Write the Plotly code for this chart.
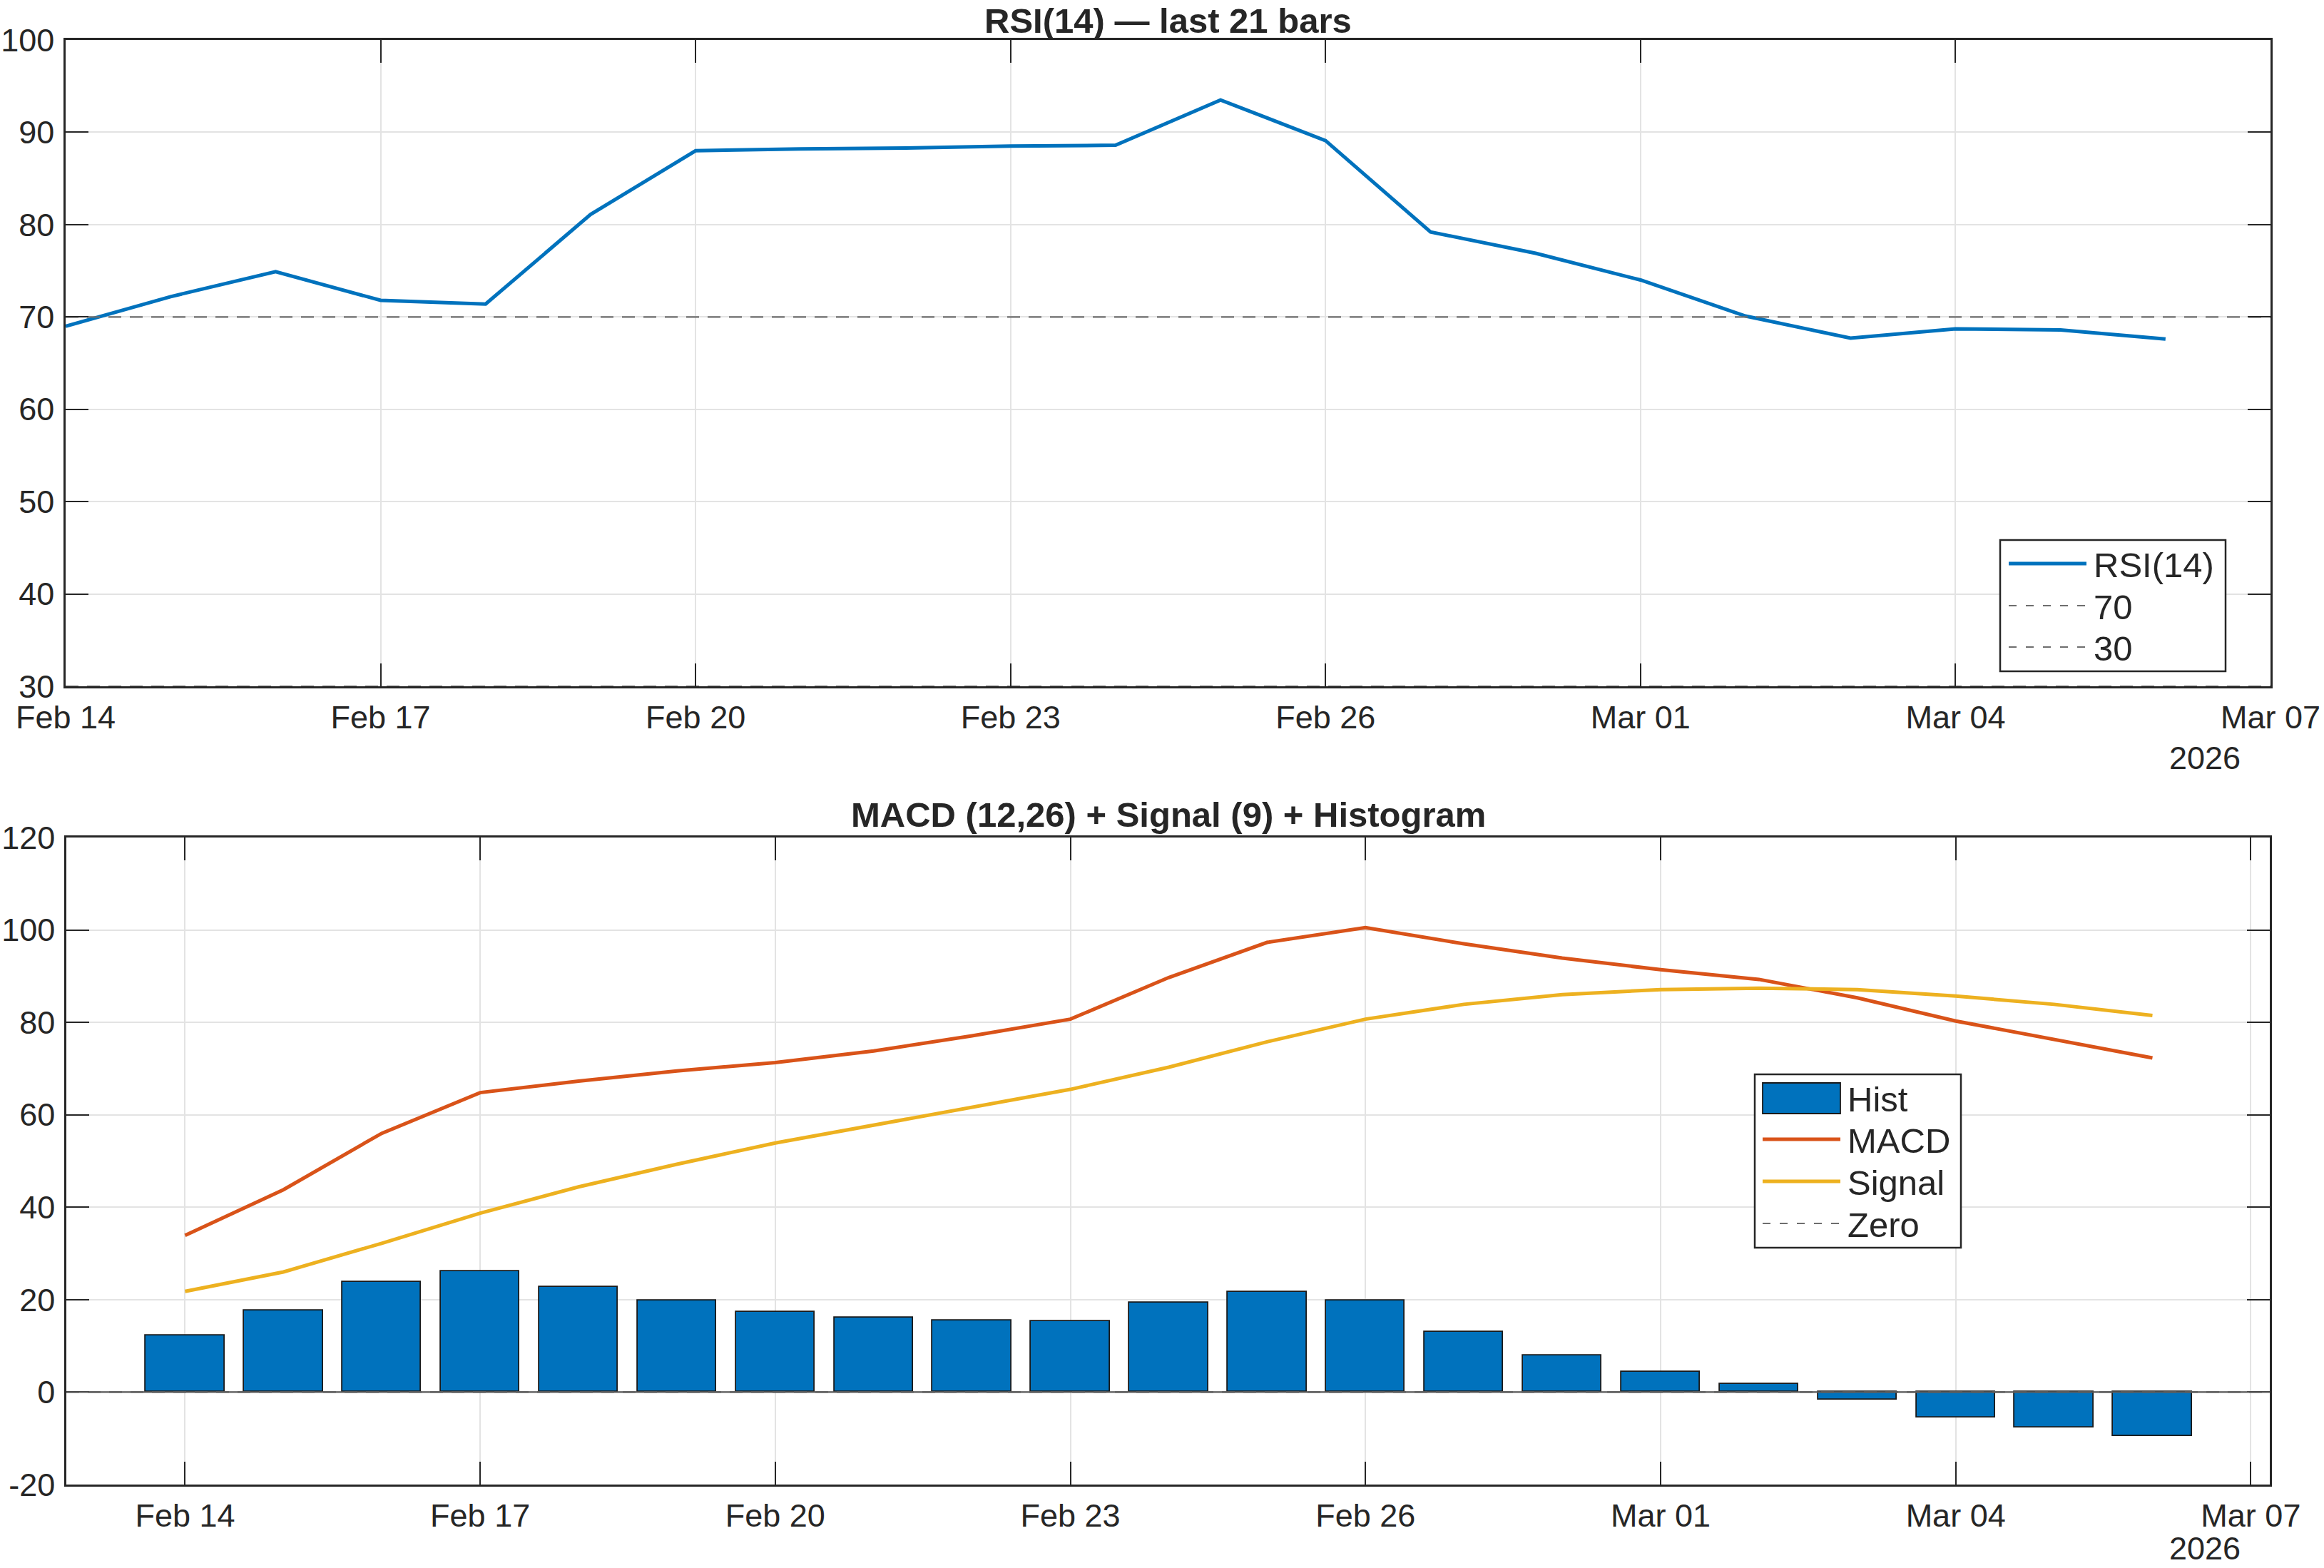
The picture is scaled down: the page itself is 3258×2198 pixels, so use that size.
import plotly.graph_objects as go

# ---------------- data ----------------
dates = ["2026-02-14", "2026-02-15", "2026-02-16", "2026-02-17", "2026-02-18",
         "2026-02-19", "2026-02-20", "2026-02-21", "2026-02-22", "2026-02-23",
         "2026-02-24", "2026-02-25", "2026-02-26", "2026-02-27", "2026-02-28",
         "2026-03-01", "2026-03-02", "2026-03-03", "2026-03-04", "2026-03-05",
         "2026-03-06"]
rsi = [69.0, 72.2, 74.9, 71.8, 71.4, 81.1, 88.0, 88.2, 88.3, 88.5, 88.6,
       93.5, 89.1, 79.2, 76.9, 74.0, 70.1, 67.7, 68.7, 68.6, 67.6]
macd = [33.9, 43.8, 56.0, 64.8, 67.3, 69.5, 71.3, 73.8, 77.1, 80.7, 89.7,
        97.3, 100.5, 97.0, 93.9, 91.4, 89.3, 85.3, 80.3, 76.3, 72.3]
signal = [21.8, 26.0, 32.2, 38.7, 44.4, 49.3, 53.9, 57.8, 61.7, 65.5, 70.3,
          75.8, 80.7, 83.9, 86.0, 87.1, 87.4, 87.1, 85.7, 83.9, 81.5]
hist = [12.2, 17.6, 23.9, 26.1, 22.7, 19.8, 17.4, 16.1, 15.5, 15.3, 19.35,
        21.6, 19.9, 13.0, 8.0, 4.4, 1.8, -1.7, -5.5, -7.7, -9.5]

rsi_levels = [70, 30]
zero_level = 0
x_ticks = ["2026-02-14", "2026-02-17", "2026-02-20", "2026-02-23", "2026-02-26",
           "2026-03-01", "2026-03-04", "2026-03-07"]
top_xrange = ["2026-02-14", "2026-03-07"]
bot_xrange = ["2026-02-12 19:02", "2026-03-07 04:38"]
rsi_ticks = [30, 40, 50, 60, 70, 80, 90, 100]
macd_ticks = [-20, 0, 20, 40, 60, 80, 100, 120]
macd_tick_text = ["-20", "0", "20", "40", "60", "80", "100", "120"]
year_label = "2026"
title_top = "RSI(14) — last 21 bars"
title_bot = "MACD (12,26) + Signal (9) + Histogram"
legend_top = ["RSI(14)", "70", "30"]
legend_bot = ["Hist", "MACD", "Signal", "Zero"]

# ---------------- style ----------------
W, H = 3258, 2198
FONT = "Liberation Sans, Arial, Helvetica, sans-serif"
TXT = "#262626"
AX = "#262626"
BLUE = "#0072BD"
ORANGE = "#D95319"
YELLOW = "#EDB120"
GRAY = "#6e6e6e"
GRID = "#e3e3e3"
LW = 5
DASH = "18px,12px"
LDASH = "11px,13px"


def px(x):
    return x / W


def py(y):
    return 1 - y / H


fig = go.Figure()

# top: RSI
fig.add_trace(go.Scatter(x=dates, y=rsi, mode="lines", name=legend_top[0],
                         line=dict(color=BLUE, width=LW), xaxis="x", yaxis="y",
                         showlegend=False))
for lvl, nm in zip(rsi_levels, legend_top[1:]):
    fig.add_trace(go.Scatter(x=top_xrange, y=[lvl, lvl], mode="lines", name=nm,
                             line=dict(color=GRAY, width=2.2, dash=DASH),
                             xaxis="x", yaxis="y", showlegend=False))

# bottom: MACD
fig.add_trace(go.Bar(x=dates, y=hist, name=legend_bot[0], width=0.8 * 86400000,
                     marker=dict(color=BLUE, line=dict(color="#1a1a1a", width=1.8)),
                     xaxis="x2", yaxis="y2", showlegend=False))
fig.add_trace(go.Scatter(x=dates, y=macd, mode="lines", name=legend_bot[1],
                         line=dict(color=ORANGE, width=LW), xaxis="x2", yaxis="y2",
                         showlegend=False))
fig.add_trace(go.Scatter(x=dates, y=signal, mode="lines", name=legend_bot[2],
                         line=dict(color=YELLOW, width=LW), xaxis="x2", yaxis="y2",
                         showlegend=False))
fig.add_trace(go.Scatter(x=bot_xrange, y=[zero_level, zero_level], mode="lines",
                         name=legend_bot[3],
                         line=dict(color=GRAY, width=2.2, dash=DASH),
                         xaxis="x2", yaxis="y2", showlegend=False))

axis_common = dict(
    showline=True, linecolor=AX, linewidth=2.5, mirror="ticks",
    ticks="inside", ticklen=32, tickwidth=2, tickcolor=AX,
    showgrid=True, gridcolor=GRID, gridwidth=1.6, zeroline=False,
    automargin=False,
    tickfont=dict(family=FONT, size=45, color=TXT),
)

fig.update_layout(
    template="none",
    width=W, height=H, autosize=False,
    margin=dict(l=0, r=0, t=0, b=0, pad=0),
    paper_bgcolor="white", plot_bgcolor="white",
    showlegend=False, bargap=0,
    font=dict(family=FONT, color=TXT),
    xaxis=dict(axis_common, type="date", range=top_xrange, tickvals=x_ticks,
               tickformat="%b %d", domain=[px(92), px(3183)], anchor="y",
               ticklabelstandoff=2),
    yaxis=dict(axis_common, range=[30, 100], tickvals=rsi_ticks,
               domain=[py(962), py(56)], anchor="x", ticklabelstandoff=4),
    xaxis2=dict(axis_common, type="date", range=bot_xrange, tickvals=x_ticks,
                tickformat="%b %d", domain=[px(93), px(3182)], anchor="y2",
                ticklabelstandoff=2),
    yaxis2=dict(axis_common, range=[-20, 120], tickvals=macd_ticks,
                ticktext=macd_tick_text,
                domain=[py(2081), py(1174)], anchor="x2", ticklabelstandoff=4),
)

shapes = []
annotations = []

# bar baseline at zero
shapes.append(dict(type="line", xref="x2 domain", x0=0, x1=1, yref="y2",
                   y0=zero_level, y1=zero_level, line=dict(color="#5a5a5a", width=2.2),
                   layer="above"))

# titles
annotations.append(dict(text="<b>" + title_top + "</b>", xref="paper", yref="paper",
                        x=px((92 + 3183) / 2), y=1, xanchor="center",
                        yanchor="top", showarrow=False,
                        font=dict(family=FONT, size=49, color=TXT)))
annotations.append(dict(text="<b>" + title_bot + "</b>", xref="paper", yref="paper",
                        x=px((93 + 3182) / 2), y=py(1142), xanchor="center",
                        yanchor="middle", showarrow=False,
                        font=dict(family=FONT, size=49, color=TXT)))

# year labels
annotations.append(dict(text=year_label, xref="paper", yref="paper",
                        x=px(3143), y=py(1062), xanchor="right", yanchor="middle",
                        showarrow=False, font=dict(family=FONT, size=45, color=TXT)))
annotations.append(dict(text=year_label, xref="paper", yref="paper",
                        x=px(3143), y=0, xanchor="right", yanchor="bottom",
                        showarrow=False, font=dict(family=FONT, size=45, color=TXT)))

LEG_FONT = dict(family=FONT, size=49, color=TXT)

# top legend box
shapes.append(dict(type="rect", xref="paper", yref="paper",
                   x0=px(2804), x1=px(3120), y0=py(941), y1=py(757),
                   line=dict(color=AX, width=2.5), fillcolor="white", layer="above"))
top_rows = [790, 849, 907]
top_styles = [dict(color=BLUE, width=LW), dict(color=GRAY, width=2.2, dash=LDASH),
              dict(color=GRAY, width=2.2, dash=LDASH)]
for lbl, yr, st in zip(legend_top, top_rows, top_styles):
    shapes.append(dict(type="line", xref="paper", yref="paper",
                       x0=px(2816), x1=px(2925), y0=py(yr), y1=py(yr),
                       line=st, layer="above"))
    annotations.append(dict(text=lbl, xref="paper", yref="paper", x=px(2933),
                            y=py(yr + 2), xanchor="left", yanchor="middle",
                            showarrow=False, font=LEG_FONT))

# bottom legend box
shapes.append(dict(type="rect", xref="paper", yref="paper",
                   x0=px(2460), x1=px(2749), y0=py(1749), y1=py(1506),
                   line=dict(color=AX, width=2.5), fillcolor="white", layer="above"))
bot_rows = [1539, 1597, 1656, 1715]
shapes.append(dict(type="rect", xref="paper", yref="paper",
                   x0=px(2471), x1=px(2580), y0=py(1561), y1=py(1518),
                   line=dict(color="#1a1a1a", width=1.8), fillcolor=BLUE, layer="above"))
bot_styles = [None, dict(color=ORANGE, width=LW), dict(color=YELLOW, width=LW),
              dict(color=GRAY, width=2.2, dash=LDASH)]
for lbl, yr, st in zip(legend_bot, bot_rows, bot_styles):
    if st is not None:
        shapes.append(dict(type="line", xref="paper", yref="paper",
                           x0=px(2471), x1=px(2580), y0=py(yr), y1=py(yr),
                           line=st, layer="above"))
    annotations.append(dict(text=lbl, xref="paper", yref="paper", x=px(2588),
                            y=py(yr + 2), xanchor="left", yanchor="middle",
                            showarrow=False, font=LEG_FONT))

fig.update_layout(shapes=shapes, annotations=annotations)

fig.write_html("out.html")
